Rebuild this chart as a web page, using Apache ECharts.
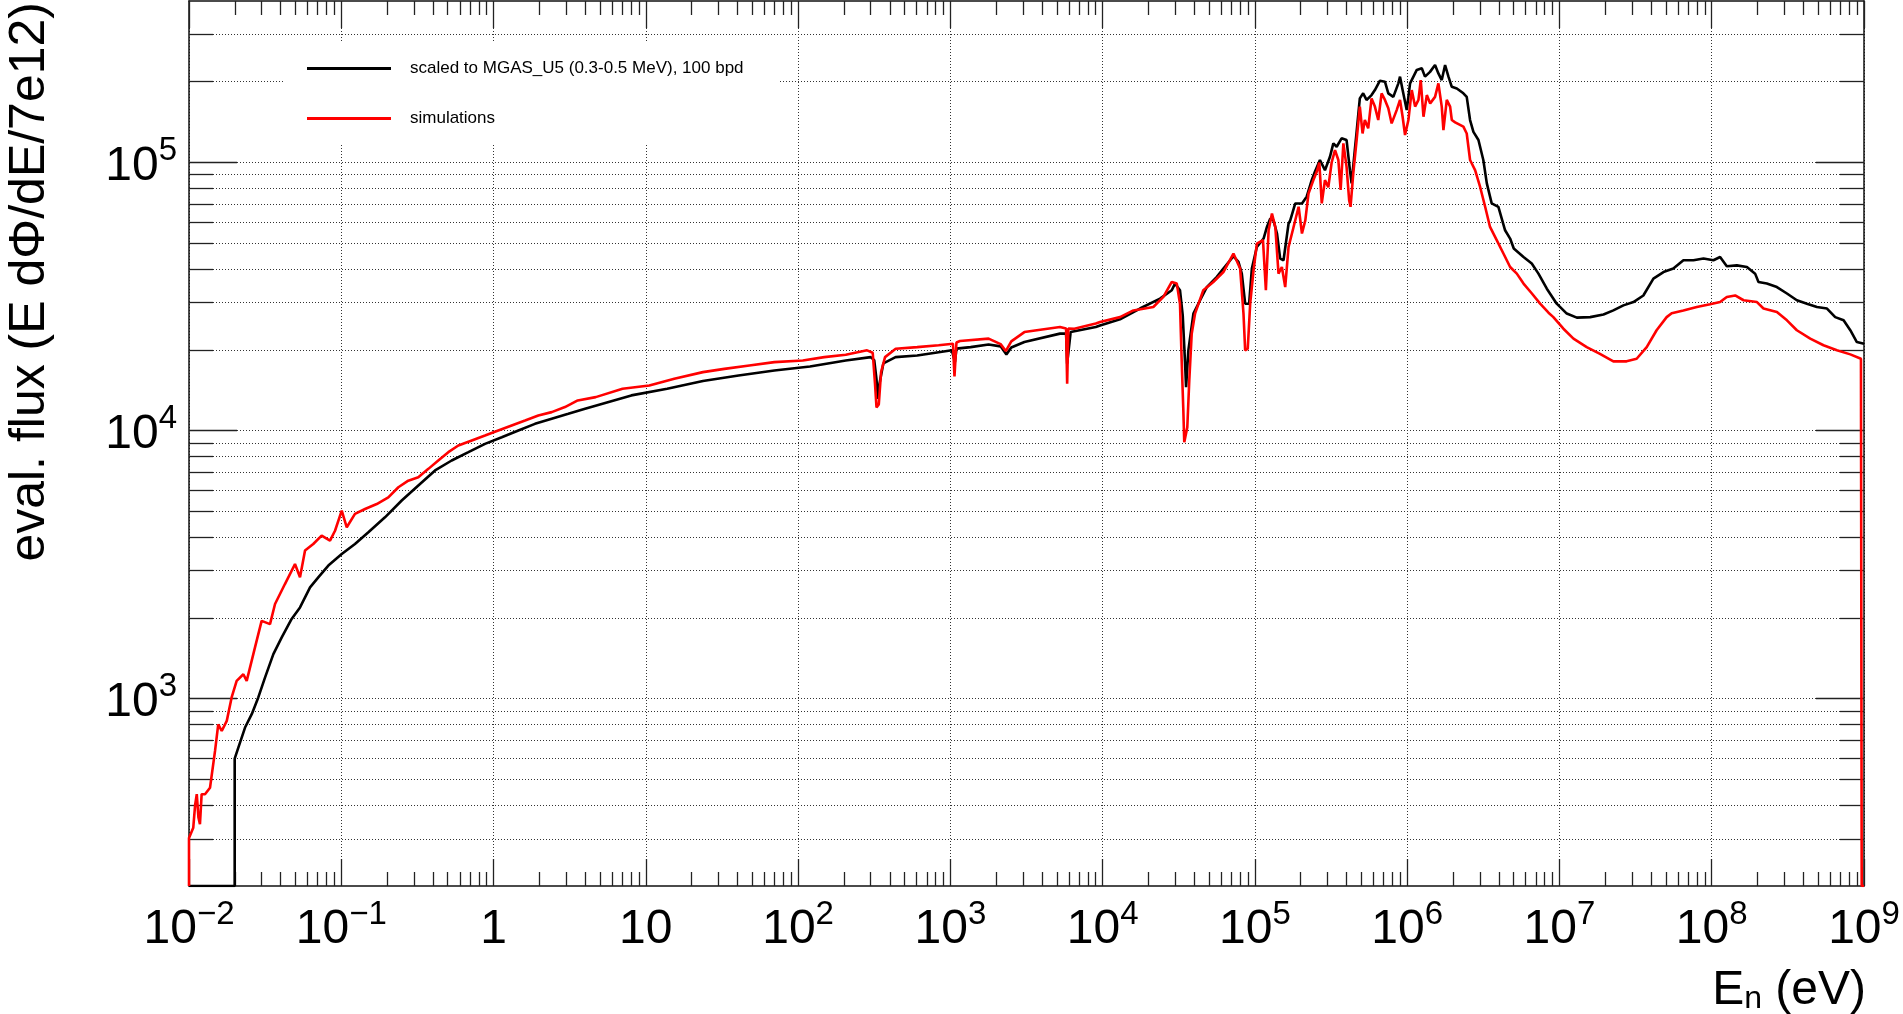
<!DOCTYPE html>
<html>
<head>
<meta charset="utf-8">
<title>Neutron flux</title>
<script src="https://cdn.jsdelivr.net/npm/echarts@6/dist/echarts.min.js"></script>
<style>
  html, body { margin: 0; padding: 0; background: #ffffff; }
  #chart { width: 1903px; height: 1014px; }
</style>
</head>
<body>
<div id="chart"></div>
<script>
// Evaluated flux, histogram scaled to MGAS_U5 (log10 of energy in eV, flux value)
const blackLogE = [
  -2.000, -1.700, -1.700, -1.676, -1.632, -1.588, -1.545, -1.501, -1.446, -1.391,
  -1.326, -1.271, -1.205, -1.151, -1.085, -0.997, -0.910, -0.822, -0.713, -0.603,
  -0.494, -0.384, -0.275, -0.165, -0.056, 0.054, 0.163, 0.272, 0.382, 0.491,
  0.601, 0.905, 1.140, 1.375, 1.609, 1.844, 2.078, 2.313, 2.477, 2.500,
  2.515, 2.524, 2.535, 2.560, 2.640, 2.782, 3.010, 3.030, 3.040, 3.133,
  3.251, 3.330, 3.368, 3.400, 3.486, 3.720, 3.760, 3.767, 3.790, 3.955,
  3.983, 4.114, 4.245, 4.377, 4.454, 4.475, 4.508, 4.526, 4.541, 4.548,
  4.563, 4.596, 4.640, 4.684, 4.750, 4.793, 4.859, 4.892, 4.914, 4.936,
  4.962, 4.980, 5.013, 5.057, 5.079, 5.101, 5.112, 5.122, 5.145, 5.166,
  5.188, 5.221, 5.232, 5.265, 5.309, 5.340, 5.373, 5.394, 5.427, 5.460,
  5.493, 5.515, 5.537, 5.569, 5.602, 5.624, 5.635, 5.656, 5.667, 5.689,
  5.711, 5.733, 5.766, 5.788, 5.821, 5.854, 5.876, 5.909, 5.942, 5.953,
  5.970, 5.997, 6.019, 6.063, 6.096, 6.117, 6.150, 6.183, 6.205, 6.227,
  6.249, 6.271, 6.293, 6.326, 6.369, 6.391, 6.413, 6.435, 6.468, 6.500,
  6.523, 6.555, 6.599, 6.643, 6.676, 6.700, 6.764, 6.818, 6.862, 6.917,
  6.982, 7.048, 7.114, 7.202, 7.289, 7.354, 7.420, 7.486, 7.551, 7.617,
  7.683, 7.748, 7.814, 7.880, 7.946, 8.011, 8.055, 8.099, 8.165, 8.231,
  8.285, 8.307, 8.362, 8.428, 8.494, 8.559, 8.625, 8.691, 8.757, 8.811,
  8.866, 8.910, 8.953, 9.000
];
const blackFlux = [
  200, 200, 597, 656, 780, 875, 1010, 1197, 1465, 1691,
  1982, 2188, 2600, 2834, 3134, 3461, 3773, 4171, 4745, 5480,
  6237, 7096, 7729, 8301, 8916, 9443, 10000, 10590, 11060, 11540,
  12050, 13520, 14320, 15290, 16030, 16740, 17330, 18250, 18780, 18300,
  15500, 13130, 15000, 17800, 18780, 19050, 19910, 18000, 20200, 20460,
  20940, 20600, 19230, 20400, 21380, 22980, 23000, 17750, 23300, 24320,
  24660, 26000, 28510, 31050, 33360, 35320, 33360, 26900, 17990, 14520,
  19910, 27300, 30610, 34280, 37400, 40180, 44670, 42530, 38470, 29720,
  29720, 40180, 48440, 52000, 57450, 61750, 62640, 60810, 54310, 43750,
  43150, 59150, 60810, 70310, 70310, 74480, 85900, 92270, 102100, 93540,
  105000, 117800, 114400, 123000, 121200, 93540, 83550, 111200, 128200, 173300,
  181000, 171000, 178300, 186200, 201700, 200000, 181000, 175600, 197200, 208900,
  186200, 156700, 197200, 221300, 224500, 208900, 217600, 230700, 214800, 202800,
  230700, 208900, 191400, 188800, 181000, 175600, 143900, 130000, 121200, 102100,
  83550, 70310, 68300, 55820, 51990, 47750, 44380, 41980, 38470, 33810,
  29720, 27300, 26360, 26480, 27100, 28050, 29290, 30140, 31890, 36880,
  39000, 40180, 43150, 43150, 43780, 43150, 44380, 41000, 41300, 40740,
  38470, 35810, 35320, 34280, 32430, 30610, 29720, 28890, 28510, 26480,
  25760, 23660, 21380, 21080
];

// Simulated flux (log10 of energy in eV, flux value)
const redLogE = [
  -2.000, -2.000, -1.990, -1.972, -1.960, -1.949, -1.938, -1.928, -1.917, -1.895,
  -1.862, -1.829, -1.808, -1.785, -1.752, -1.720, -1.687, -1.643, -1.621, -1.567,
  -1.523, -1.468, -1.435, -1.370, -1.304, -1.271, -1.238, -1.184, -1.129, -1.074,
  -1.041, -0.997, -0.964, -0.910, -0.844, -0.767, -0.691, -0.625, -0.560, -0.494,
  -0.428, -0.363, -0.297, -0.231, -0.143, -0.056, 0.031, 0.119, 0.207, 0.294,
  0.382, 0.469, 0.553, 0.671, 0.847, 1.023, 1.187, 1.375, 1.516, 1.680,
  1.844, 2.031, 2.172, 2.313, 2.453, 2.490, 2.505, 2.515, 2.530, 2.545,
  2.571, 2.641, 2.782, 2.923, 3.017, 3.027, 3.040, 3.063, 3.251, 3.330,
  3.364, 3.400, 3.486, 3.720, 3.760, 3.767, 3.775, 3.814, 3.955, 3.983,
  4.114, 4.202, 4.333, 4.399, 4.454, 4.487, 4.508, 4.519, 4.530, 4.536,
  4.556, 4.569, 4.585, 4.607, 4.661, 4.727, 4.793, 4.859, 4.903, 4.925,
  4.936, 4.953, 4.969, 4.991, 5.013, 5.053, 5.072, 5.090, 5.112, 5.134,
  5.155, 5.177, 5.199, 5.221, 5.254, 5.287, 5.309, 5.331, 5.352, 5.384,
  5.406, 5.423, 5.439, 5.460, 5.482, 5.504, 5.526, 5.548, 5.563, 5.581,
  5.602, 5.619, 5.628, 5.646, 5.668, 5.689, 5.707, 5.722, 5.744, 5.766,
  5.788, 5.810, 5.832, 5.854, 5.876, 5.898, 5.931, 5.953, 5.970, 5.986,
  6.008, 6.030, 6.052, 6.074, 6.089, 6.107, 6.129, 6.151, 6.183, 6.205,
  6.227, 6.238, 6.260, 6.282, 6.293, 6.315, 6.369, 6.391, 6.413, 6.446,
  6.479, 6.512, 6.544, 6.588, 6.632, 6.676, 6.720, 6.764, 6.819, 6.873,
  6.928, 6.960, 7.026, 7.092, 7.179, 7.266, 7.354, 7.441, 7.507, 7.573,
  7.638, 7.704, 7.737, 7.814, 7.902, 7.989, 8.055, 8.099, 8.154, 8.209,
  8.297, 8.340, 8.428, 8.494, 8.559, 8.647, 8.734, 8.822, 8.910, 8.980,
  8.985, 9.000
];
const redFlux = [
  200, 302, 302, 330, 400, 440, 360, 340, 440, 440,
  465, 638, 802, 757, 826, 1010, 1165, 1233, 1165, 1549,
  1950, 1896, 2254, 2675, 3176, 2834, 3565, 3773, 4055, 3882,
  4227, 5026, 4355, 4888, 5097, 5318, 5633, 6143, 6501, 6693,
  7193, 7729, 8301, 8790, 9178, 9579, 10000, 10440, 10900, 11380,
  11710, 12230, 12950, 13320, 14320, 14720, 15600, 16510, 16980, 17480,
  17990, 18250, 18780, 19170, 19910, 19500, 15000, 12200, 12500, 16500,
  18780, 20180, 20460, 20800, 21080, 15900, 21300, 21560, 22010, 21000,
  19780, 21500, 23290, 24320, 24000, 14930, 24000, 23970, 25060, 25410,
  26480, 28050, 28890, 31500, 35810, 35320, 29720, 18270, 11880, 9040,
  10290, 15370, 22970, 27300, 33360, 35810, 39000, 45720, 40180, 27300,
  19910, 20200, 29720, 39600, 49810, 51290, 33360, 55820, 64420, 57450,
  38470, 40740, 34280, 48440, 57450, 68350, 54310, 60810, 76560, 85900,
  92270, 99900, 70310, 85900, 80800, 99900, 111200, 102100, 78900, 117800,
  96300, 72300, 68300, 91000, 121200, 161500, 128200, 143900, 134000, 173300,
  161500, 143900, 181000, 171000, 159200, 139800, 156700, 171000, 148000, 126500,
  143900, 186200, 161500, 171000, 202800, 148000, 178300, 166000, 175600, 197200,
  161500, 132000, 171000, 161500, 143900, 141000, 135900, 128200, 102100, 93540,
  81000, 68300, 57450, 51290, 45720, 40740, 38470, 35320, 32430, 29720,
  27500, 26480, 23970, 22010, 20460, 19320, 18110, 18110, 18520, 20460,
  23660, 26480, 27400, 28050, 28890, 29580, 30140, 31500, 31890, 30610,
  30140, 28510, 27670, 25760, 23660, 22010, 20800, 19910, 19230, 18520,
  200, 200
];

// Axis ticks
const xDecades = [1e-2, 1e-1, 1, 10, 1e2, 1e3, 1e4, 1e5, 1e6, 1e7, 1e8, 1e9];
const yDecades = [1e3, 1e4, 1e5];
const yMinorDecades = [1e2, 1e3, 1e4, 1e5];
const minorSteps = [2, 3, 4, 5, 6, 7, 8, 9];
const xMin = 1e-2, xMax = 1e9, yMin = 200, yMax = 4e5;

const xMinor = [];
xDecades.slice(0, -1).forEach(d => minorSteps.forEach(k => xMinor.push(k * d)));
const yMinor = [];
yMinorDecades.forEach(d => minorSteps.forEach(k => {
  const v = k * d;
  if (v > yMin && v < yMax && yDecades.indexOf(v) < 0) yMinor.push(v);
}));

const toPairs = (logE, flux) => logE.map((e, i) => [Math.pow(10, e), flux[i]]);

const FONT = '"Liberation Sans", Arial, Helvetica, sans-serif';
const frameColor = '#111';
const tickColor = '#222';
const gridStyle = { color: '#333', width: 1, type: [1, 2] };

function powerLabel(v) {
  const p = Math.round(Math.log10(v));
  if (p === 0) return '{b|1}';
  if (p === 1) return '{b|10}';
  return '{b|10}{s|' + (p < 0 ? '\u2212' + (-p) : String(p)) + '}';
}
const powerRich = {
  b: { fontSize: 48, fontFamily: FONT, color: '#000', lineHeight: 56, verticalAlign: 'bottom' },
  s: { fontSize: 33, fontFamily: FONT, color: '#000', lineHeight: 32, verticalAlign: 'top' }
};

function xAxisDef(position, ticks, len, withLine, withLabel, withSplit) {
  return {
    type: 'log', logBase: 10, position: position, min: xMin, max: xMax,
    axisLine: { show: withLine, onZero: false, lineStyle: { color: frameColor, width: 1.5 } },
    axisTick: { show: true, inside: true, length: len, customValues: ticks,
                lineStyle: { color: tickColor, width: 1.3 } },
    axisLabel: withLabel
      ? { show: true, customValues: ticks, margin: 12, formatter: powerLabel, rich: powerRich }
      : { show: false },
    splitLine: { show: withSplit, lineStyle: gridStyle },
    minorTick: { show: false }, minorSplitLine: { show: false }
  };
}
function yAxisDef(position, ticks, len, withLine, withLabel, withSplit) {
  return {
    type: 'log', logBase: 10, position: position, min: yMin, max: yMax,
    axisLine: { show: withLine, onZero: false, lineStyle: { color: frameColor, width: 1.5 } },
    axisTick: { show: true, inside: true, length: len, customValues: ticks,
                lineStyle: { color: tickColor, width: 1.3 } },
    axisLabel: withLabel
      ? { show: true, customValues: ticks, margin: 12, formatter: powerLabel, rich: powerRich }
      : { show: false },
    splitLine: { show: withSplit, lineStyle: gridStyle },
    minorTick: { show: false }, minorSplitLine: { show: false }
  };
}

const chart = echarts.init(document.getElementById('chart'), null, { renderer: 'canvas' });
chart.setOption({
  animation: false,
  backgroundColor: '#ffffff',
  grid: { left: 189, right: 39, top: 1, bottom: 128, containLabel: false },
  xAxis: [
    xAxisDef('bottom', xDecades, 27, true, true, true),
    xAxisDef('bottom', xMinor, 14, false, false, false),
    xAxisDef('top', xDecades, 27, true, false, false),
    xAxisDef('top', xMinor, 14, false, false, false)
  ],
  yAxis: [
    yAxisDef('left', yDecades, 48, true, true, true),
    yAxisDef('left', yMinor, 24, false, false, true),
    yAxisDef('right', yDecades, 48, true, false, false),
    yAxisDef('right', yMinor, 24, false, false, false)
  ],
  legend: {
    orient: 'vertical', left: 284, top: 42,
    padding: [18, 35, 18, 23], itemGap: 33,
    icon: 'rect', itemWidth: 84, itemHeight: 3,
    backgroundColor: '#ffffff',
    textStyle: { fontSize: 17, fontFamily: FONT, color: '#000', padding: [0, 0, 0, 14] },
    data: ['scaled to MGAS_U5 (0.3-0.5 MeV), 100 bpd', 'simulations']
  },
  graphic: [
    {
      type: 'text', x: 30, y: 2, rotation: Math.PI / 2,
      style: { text: 'eval. flux (E d\u03A6/dE/7e12)', font: '50px ' + FONT, fill: '#000',
               textAlign: 'right', textVerticalAlign: 'middle' }
    },
    {
      type: 'text', x: 1866, y: 967,
      style: {
        text: '{b|E}{n|n}{b| (eV)}', textAlign: 'right', textVerticalAlign: 'top',
        rich: {
          b: { fontSize: 48, fontFamily: FONT, fill: '#000', lineHeight: 48, verticalAlign: 'top' },
          n: { fontSize: 32, fontFamily: FONT, fill: '#000', lineHeight: 30, verticalAlign: 'bottom', padding: [22, 0, 0, 0] }
        }
      }
    }
  ],
  series: [
    {
      name: 'scaled to MGAS_U5 (0.3-0.5 MeV), 100 bpd', type: 'line',
      xAxisIndex: 0, yAxisIndex: 0, symbol: 'none', showSymbol: false, clip: true,
      lineStyle: { color: '#000000', width: 2.6 }, itemStyle: { color: '#000000' },
      data: toPairs(blackLogE, blackFlux), z: 2
    },
    {
      name: 'simulations', type: 'line',
      xAxisIndex: 0, yAxisIndex: 0, symbol: 'none', showSymbol: false, clip: true,
      lineStyle: { color: '#ff0000', width: 2.6 }, itemStyle: { color: '#ff0000' },
      data: toPairs(redLogE, redFlux), z: 3
    }
  ]
});
</script>
</body>
</html>
